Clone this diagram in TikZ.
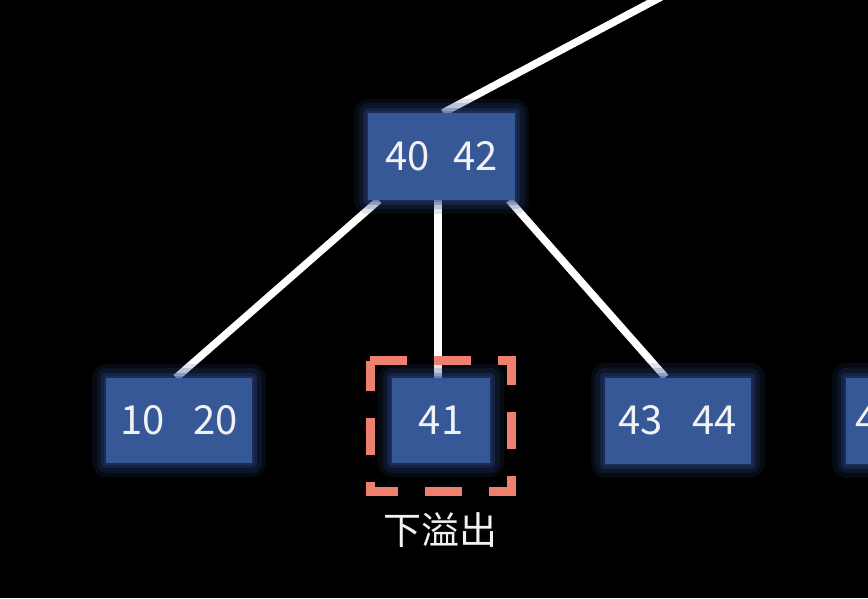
\documentclass[tikz,border=0pt]{standalone}
\usepackage{fontspec}
\setmainfont{Noto Sans CJK SC}
\usetikzlibrary{backgrounds}
\definecolor{keyblue}{HTML}{365897}
\definecolor{glowblue}{HTML}{2A4585}
\definecolor{underred}{HTML}{EF7F6E}
\definecolor{keytext}{HTML}{F2F2F2}
\tikzstyle{keybox} = [fill=keyblue, text=keytext, font=\fontsize{40}{42}\selectfont, inner sep=0pt,
    preaction={fill=none, draw=glowblue, line width=28pt, opacity=0.15, line join=round},
    preaction={fill=none, draw=glowblue, line width=19pt, opacity=0.2, line join=round},
    preaction={fill=none, draw=glowblue, line width=10pt, opacity=0.3, line join=round},
    preaction={fill=none, draw=glowblue, line width=4pt, opacity=0.3, line join=round}]
\tikzstyle{edge} = [draw=white, line width=7.5pt]
\tikzstyle{underflow} = [draw=underred, line width=9pt, dash pattern=on 37pt off 27pt]

\begin{document}
\begin{tikzpicture}[x=1pt, y=1pt]
\useasboundingbox (0,0) rectangle (868,598);
\node[keybox, minimum width=147pt, minimum height=87pt] (top) at (441.5,441.5) {40\hspace{23pt}42};
\node[keybox, minimum width=146pt, minimum height=85pt] (left) at (179,177.5) {10\hspace{29pt}20};
\node[keybox, minimum width=98pt, minimum height=85pt] (mid) at (441,177.5) {41};
\node[keybox, minimum width=146pt, minimum height=86pt] (right) at (677.5,177.5) {43\hspace{30pt}44};
\node[keybox, minimum width=147pt, minimum height=86pt, text width=129pt, inner xsep=9pt, align=left] (next) at (919.5,177.5) {4};
\coordinate (upper) at (693,618);
\draw[underflow] (370,237) -- (511,237) -- (511,107) -- (370,107) -- cycle;
\node[font=\fontsize{38}{40}\selectfont, text=keytext] (flowlabel) at (440,68) {下溢出};
\begin{pgfonlayer}{background}
\fill[black] (0,0) rectangle (868,598);
\draw[edge] ([xshift=1.5pt]top.north) -- (upper);
\draw[edge] ([xshift=11pt]top.south west) -- ([xshift=-3pt]left.north);
\draw[edge] ([xshift=-3.5pt]top.south) -- ([xshift=-3pt]mid.north);
\draw[edge] ([xshift=-6pt]top.south east) -- ([xshift=-12pt]right.north);
\end{pgfonlayer}
\end{tikzpicture}
\end{document}
